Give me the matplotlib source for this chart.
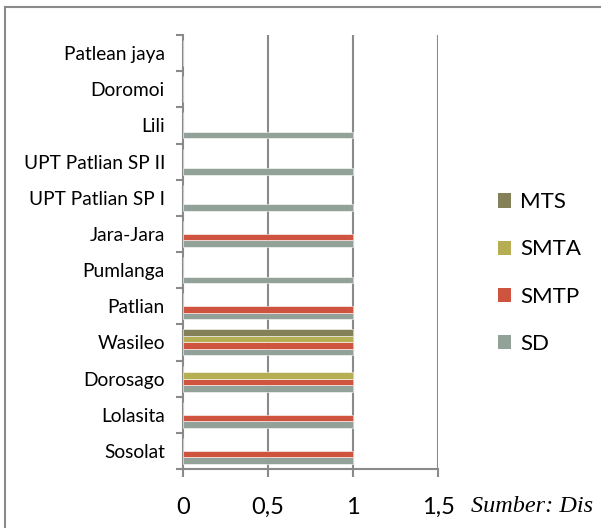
import matplotlib
matplotlib.use("Agg")
import matplotlib.pyplot as plt
from matplotlib.lines import Line2D
from matplotlib.patches import Patch
import numpy as np

categories = ["Sosolat", "Lolasita", "Dorosago", "Wasileo", "Patlian", "Pumlanga",
              "Jara-Jara", "UPT Patlian SP I", "UPT Patlian SP II", "Lili",
              "Doromoi", "Patlean jaya"]
sd   = [1, 1, 1, 1, 1, 1, 1, 1, 1, 1, 0, 0]
smtp = [1, 1, 1, 1, 1, 0, 1, 0, 0, 0, 0, 0]
smta = [0, 0, 1, 1, 0, 0, 0, 0, 0, 0, 0, 0]
mts  = [0, 0, 0, 1, 0, 0, 0, 0, 0, 0, 0, 0]
series_names = ["SD", "SMTP", "SMTA", "MTS"]
colors = ["#93A299", "#CF543F", "#B5AE53", "#848058"]
xticks = [0, 0.5, 1, 1.5]
xtick_labels = ["0", "0,5", "1", "1,5"]

plt.rcParams['font.family'] = ['Lato', 'DejaVu Sans']

fig = plt.figure(figsize=(6.01, 5.28), dpi=100)
ax = fig.add_axes([183/601, 1-469/528, (438-183)/601, (469-35)/528])

y = np.arange(len(categories))
h = 0.18
offsets = [-1.5*h, -0.5*h, 0.5*h, 1.5*h]
for vals, off, col, name in zip([sd, smtp, smta, mts], offsets, colors, series_names):
    ax.barh(y + off, vals, height=h, color=col, edgecolor='white', linewidth=0.4,
            label=name, zorder=3)

ax.set_xlim(0, 1.5)
ax.set_ylim(-0.5, len(categories) - 0.5)
grid_c = "#8a8a8a"
ax.set_xticks(xticks)
ax.set_xticklabels(xtick_labels, fontsize=17)
for xv in xticks[1:]:
    ax.axvline(xv, color=grid_c, lw=1.5, zorder=1)
ax.set_yticks(np.arange(-0.5, len(categories), 1.0))
ax.set_yticklabels([])
ax.set_yticks(y, minor=True)
ax.set_yticklabels(categories, minor=True, fontsize=13.8)
ax.tick_params(axis='y', which='minor', length=0, pad=13)
ax.tick_params(axis='y', which='major', length=5, width=1.5, color=grid_c)
ax.tick_params(axis='x', length=6, width=1.5, color=grid_c, pad=14)
for s in ['top', 'right']:
    ax.spines[s].set_visible(False)
for s in ['left', 'bottom']:
    ax.spines[s].set_color(grid_c)
    ax.spines[s].set_linewidth(1.5)

handles = [Patch(facecolor=c, edgecolor='none') for c in colors[::-1]]
fig.legend(handles, series_names[::-1], loc='center left',
           bbox_to_anchor=(487/601, 1-273/528), frameon=False, fontsize=16,
           handlelength=0.6, handleheight=0.6, handletextpad=0.4,
           labelspacing=1.22, borderpad=0)

fig.text(471/601, 1-506/528, "Sumber: Dis", fontsize=17.5, style='italic',
         family='Liberation Serif', va='center', ha='left')

fig.add_artist(Line2D([4.5/601, 4.5/601], [0, 1-7/528], color="#8a8a8a", lw=1.5,
                      transform=fig.transFigure))
fig.add_artist(Line2D([4.5/601, 1], [1-7/528, 1-7/528], color="#8a8a8a", lw=1.5,
                      transform=fig.transFigure))

fig.savefig("out.png", dpi=100)
